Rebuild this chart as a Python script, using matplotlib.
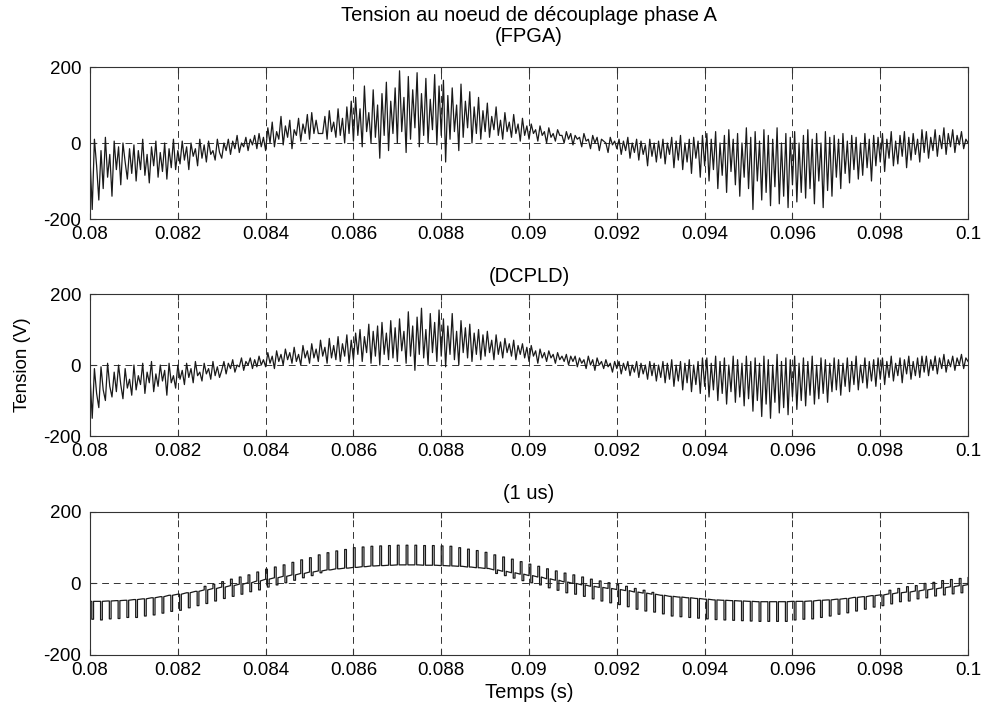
import numpy as np
import matplotlib
matplotlib.use("Agg")
import matplotlib.pyplot as plt
from matplotlib.ticker import FuncFormatter

plt.rcParams["font.family"] = ["Liberation Sans", "DejaVu Sans"]
plt.rcParams["axes.unicode_minus"] = False

# --- data ---
x_ticks = [0.08, 0.082, 0.084, 0.086, 0.088, 0.09, 0.092, 0.094, 0.096, 0.098, 0.1]
y_ticks = [-200, 0, 200]
titles = ["Tension au noeud de découplage phase A\n(FPGA)", "(DCPLD)", "(1 us)"]

# FPGA: sampled every 50 us from 0.08 s to 0.1 s (20 values per ms)
v_fpga = [
    -40, -175, 10, -60, -150, -20, -120, 15, -90, -30, -140, 5, -70, -10, -110, 0, -50, -95, -15, -80,
    -5, -100, -20, -70, 10, -85, -30, -105, -10, -60, 5, -90, -25, -75, 0, -95, -15, -65, 10, -70,
    -20, -55, 5, -45, -10, -70, 0, -35, -15, -60, 10, -40, -5, -50, 5, -30, -20, -45, 10, -25,
    -40, 0, -20, 10, -30, 5, -15, 20, -25, 0, -10, 15, -20, 10, -5, 20, -15, 25, -10, 15,
    -20, 40, 0, 55, -10, 30, 10, 70, -5, 45, 15, 60, -15, 35, 20, 65, 5, 50, 25, 75,
    10, 80, 25, 60, 25, 25, 25, 70, 10, 85, 30, 55, 15, 90, 20, 65, 0, 95, 25, 110,
    5, 120, 20, 90, -10, 150, 30, 80, 0, 140, 15, 100, -40, 130, 20, 160, -20, 110, 25, 145,
    0, 190, 30, 120, -25, 175, 10, 140, 40, 185, -10, 130, 20, 170, 0, 115, 35, 180, -5, 150,
    20, 165, -50, 125, 10, 145, 30, 100, -20, 155, 15, 110, 40, 135, 0, 95, 25, 120, 10, 85,
    30, 105, 15, 70, 35, 95, 20, 60, 10, 80, 30, 55, 15, 75, 25, 50, 5, 65, 20, 45,
    10, 50, 25, 35, 5, 45, 20, 30, 0, 40, 15, 25, 5, 35, 20, 20, 0, 30, 10, 25,
    -5, 20, 10, 15, -10, 25, 5, 10, -15, 20, 0, 15, -20, 10, 5, 0, -25, 15, -5, 5,
    -15, 10, -30, 5, -20, 15, -40, 0, -25, 10, -45, 5, -30, -5, -60, 10, -35, 0, -50, 5,
    -40, 10, -55, 0, -30, 15, -65, 5, -45, 20, -70, 0, -50, 10, -80, 15, -40, 5, -90, 20,
    -60, 25, -100, 10, -70, 30, -120, 0, -85, 20, -130, 35, -75, 10, -110, 25, -140, 0, -90, 40,
    -120, 15, -175, 30, -100, 5, -150, 35, -130, 20, -165, 10, -115, 40, -160, 0, -140, 25, -170, 15,
    -110, 30, -155, 0, -130, 20, -145, 35, -120, 10, -160, 25, -100, 0, -170, 30, -125, 15, -140, 20,
    -90, 10, -120, 25, -80, 5, -105, 20, -70, 15, -95, 0, -85, 25, -65, 10, -100, 20, -60, 15,
    -50, 25, -75, 10, -40, 30, -60, 5, -55, 20, -35, 30, -65, 15, -45, 25, -30, 10, -50, 35,
    -25, 30, -40, 15, -20, 35, -35, 20, -15, 40, -30, 25, -10, 35, -25, 20, -5, 30, -15, 10,
    0,
]

# DCPLD: same sampling
v_dcpld = [
    -30, -150, -10, -80, -120, -5, -70, -100, 5, -60, -90, -20, -75, 0, -55, -95, -10, -65, -40, -85,
    0, -70, -30, -55, 5, -80, -20, -50, 10, -75, -25, -60, 0, -45, -15, -85, 5, -50, -30, -65,
    0, -40, -15, -55, 5, -35, -10, -50, 10, -30, -20, -45, 5, -25, -10, -40, 10, -30, -5, -35,
    -15, 10, -25, 5, -10, 15, -20, 0, -5, 20, -15, 10, 0, 20, -10, 15, -5, 25, 0, 15,
    -5, 35, 5, 25, -10, 40, 10, 30, 0, 45, 15, 35, 5, 50, 10, 30, 0, 55, 20, 40,
    5, 60, 20, 45, 10, 70, 25, 50, 5, 75, 20, 55, 15, 80, 10, 60, 25, 85, 5, 70,
    15, 90, 30, 100, 10, 80, 35, 115, 5, 95, 25, 110, 0, 120, 30, 90, 15, 125, 20, 105,
    10, 130, 40, 95, 5, 150, 25, 110, -15, 135, 30, 160, 20, 100, 0, 145, 35, 120, 10, 155,
    25, 130, -5, 110, 30, 145, 15, 95, 0, 125, 35, 105, 20, 115, 10, 90, 30, 100, 15, 85,
    25, 95, 35, 70, 15, 85, 30, 65, 20, 75, 35, 60, 25, 70, 15, 55, 30, 60, 20, 50,
    10, 55, 25, 40, 5, 45, 20, 35, 10, 40, 20, 30, 5, 35, 15, 25, 10, 30, 0, 25,
    10, 25, -5, 20, 5, 15, -10, 25, 0, 15, -15, 20, 0, 10, -10, 15, -5, 5, -20, 10,
    -10, 10, -25, 5, -15, 10, -30, 0, -20, 10, -35, 5, -25, 0, -40, 10, -30, 5, -45, 0,
    -35, 10, -50, 5, -40, 15, -60, 0, -45, 10, -70, 5, -50, 15, -75, 0, -55, 10, -80, 20,
    -60, 20, -90, 5, -70, 25, -100, 10, -80, 20, -110, 0, -75, 25, -105, 15, -90, 5, -115, 25,
    -95, 10, -130, 20, -100, 5, -145, 25, -110, 15, -150, 0, -105, 30, -135, 10, -120, 20, -140, 15,
    -90, 25, -125, 5, -100, 20, -115, 10, -85, 25, -110, 0, -95, 20, -80, 15, -105, 5, -75, 20,
    -70, 15, -85, 5, -60, 20, -75, 10, -55, 25, -70, 0, -50, 20, -65, 10, -45, 15, -60, 20,
    -40, 20, -55, 10, -35, 25, -45, 5, -30, 20, -50, 15, -25, 25, -40, 10, -30, 20, -35, 25,
    -20, 25, -30, 15, -15, 25, -25, 20, -10, 30, -20, 15, -5, 25, -15, 20, 0, 30, -10, 20,
    10,
]

# 1 us: baseline every 200 us plus the height of the pulse above / below it
base_1us = [
    -50, -50, -49, -48, -47, -45, -43, -40, -37, -33,
    -30, -26, -22, -18, -14, -10, -6, -2, 2, 7,
    12, 16, 20, 24, 28, 32, 35, 38, 41, 43,
    45, 47, 49, 50, 51, 52, 52, 52, 51, 51,
    50, 49, 48, 46, 44, 42, 38, 34, 30, 26,
    22, 18, 13, 9, 4, 0, -4, -8, -11, -14,
    -17, -20, -24, -27, -30, -33, -36, -38, -40, -42,
    -44, -46, -47, -48, -49, -50, -51, -51, -51, -51,
    -50, -50, -49, -47, -46, -44, -42, -39, -37, -34,
    -32, -29, -26, -24, -21, -18, -15, -12, -9, -6,
    -3,
]
up_1us = [
    0, 0, 0, 0, 0, 0, 0, 0, 0, 0,
    0, 0, 0, 10, 12, 15, 18, 20, 22, 25,
    28, 30, 32, 35, 38, 40, 45, 48, 50, 52,
    55, 55, 55, 55, 55, 55, 55, 55, 55, 55,
    55, 55, 52, 50, 48, 45, 42, 40, 38, 35,
    32, 30, 28, 26, 25, 24, 22, 20, 18, 16,
    14, 12, 10, 8, 5, 0, 0, 0, 0, 0,
    0, 0, 0, 0, 0, 0, 0, 0, 0, 0,
    0, 0, 0, 0, 0, 0, 0, 0, 0, 0,
    0, 10, 12, 15, 15, 18, 18, 20, 20, 20,
    20,
]
down_1us = [
    50, 52, 50, 50, 48, 50, 48, 48, 46, 45,
    45, 42, 40, 38, 35, 32, 30, 28, 25, 25,
    22, 20, 18, 15, 12, 10, 5, 0, 0, 0,
    0, 0, 0, 0, 0, 0, 0, 0, 0, 0,
    0, 0, 0, 0, 0, 0, 10, 12, 15, 18,
    20, 22, 25, 28, 30, 30, 32, 35, 38, 40,
    42, 45, 48, 50, 50, 52, 55, 55, 55, 55,
    55, 55, 55, 55, 55, 55, 55, 55, 55, 55,
    52, 50, 50, 48, 45, 42, 40, 38, 35, 32,
    30, 28, 25, 25, 22, 22, 20, 20, 20, 20,
    20,
]


def main() -> None:
    t_fpga = np.linspace(0.08, 0.1, len(v_fpga))
    t_dcpld = np.linspace(0.08, 0.1, len(v_dcpld))

    # pulse train for the 1 us case
    t_base = np.linspace(0.08, 0.1, len(base_1us))
    w = 0.00004  # pulse width (s)
    t_1us, v_1us = [], []
    for t, b, u, d in zip(t_base, base_1us, up_1us, down_1us):
        t_1us += [t, t, t + w, t + w, t + w, t + 2 * w, t + 2 * w]
        v_1us += [b, b + u, b + u, b, b - d, b - d, b]

    fig = plt.figure(figsize=(9.85, 7.09), dpi=100)
    boxes = [
        [0.0914, 0.6911, 0.8914, 0.2144],
        [0.0914, 0.3850, 0.8914, 0.2003],
        [0.0914, 0.0762, 0.8914, 0.2017],
    ]
    series = [(t_fpga, v_fpga), (t_dcpld, v_dcpld), (t_1us, v_1us)]
    title_pads = [18, 9, 9]

    fmt = FuncFormatter(lambda v, pos: f"{v:g}")
    axes = []
    for box, (t, v), title, tpad in zip(boxes, series, titles, title_pads):
        ax = fig.add_axes(box)
        ax.plot(t, v, color="#1a1a1a", linewidth=0.9)
        ax.set_xlim(0.08, 0.1)
        ax.set_ylim(-200, 200)
        ax.set_xticks(x_ticks)
        ax.set_yticks(y_ticks)
        ax.xaxis.set_major_formatter(fmt)
        ax.grid(True, color="#333333", linestyle=(0, (7, 5)), linewidth=0.7)
        ax.tick_params(direction="in", top=True, right=True, length=4,
                       labelsize=13.5, color="#333333")
        ax.tick_params(axis="x", pad=5)
        ax.tick_params(axis="y", pad=6.5)
        for s in ax.spines.values():
            s.set_linewidth(0.8)
            s.set_color("#333333")
        ax.set_title(title, fontsize=14.5, pad=tpad, linespacing=1.15)
        axes.append(ax)

    axes[1].set_ylabel("Tension (V)", fontsize=13.5, labelpad=9)
    axes[2].set_xlabel("Temps (s)", fontsize=14.5, labelpad=3)

    fig.savefig("out.png", dpi=100)


if __name__ == "__main__":
    main()
